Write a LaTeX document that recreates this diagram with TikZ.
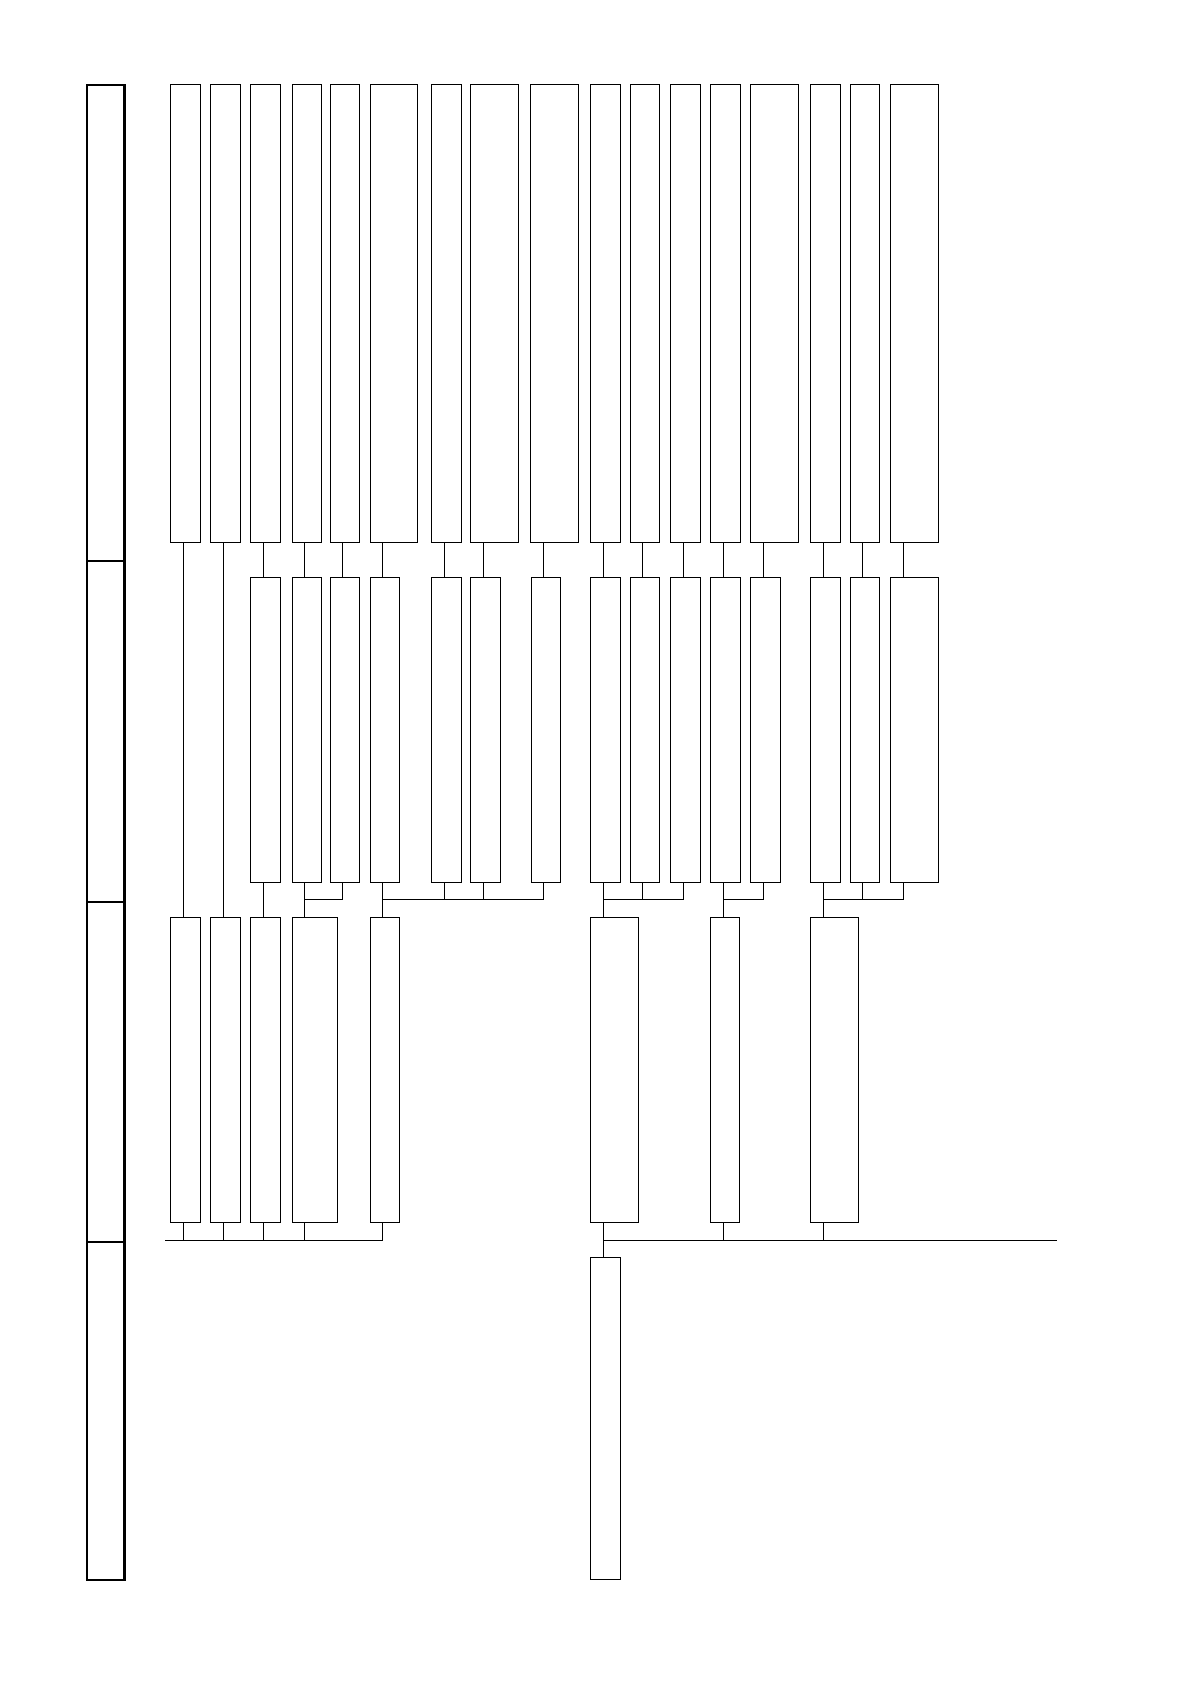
\documentclass[tikz,border=0pt]{standalone}
\tikzset{
	cell/.style={draw, rectangle, inner sep=0pt, anchor=north west, line width=0.5pt},
	band/.style={draw, rectangle, inner sep=0pt, anchor=north west, line width=1.1pt},
	wire/.style={line width=0.5pt},
}
% \cellbox{name}{left}{top}{width}{height}
\newcommand{\cellbox}[5]{
	\node[cell, minimum width=#4*0.5pt, minimum height=#5*0.5pt] (#1) at (#2,#3) {};
}

\begin{document}
\begin{tikzpicture}[x=0.5pt, y=-0.5pt]
	\useasboundingbox (0,0) rectangle (1190,1682);
	% left band
	\node[band, minimum width=37.6*0.5pt, minimum height=476.5*0.5pt] (f1) at (85.7,83.5) {};
	\node[band, minimum width=37.6*0.5pt, minimum height=341*0.5pt] (f2) at (85.7,560) {};
	\node[band, minimum width=37.6*0.5pt, minimum height=340*0.5pt] (f3) at (85.7,901) {};
	\node[band, minimum width=37.6*0.5pt, minimum height=338*0.5pt] (f4) at (85.7,1241) {};
	% top row
	\foreach \n/\x/\w in {1/170/29.5, 2/210/29.5, 3/250/29.5, 4/291.5/29.5, 5/329.5/29.5, 6/369.5/47.5,
		7/431/29.5, 8/470/47.5, 9/530/47.5, 10/590/29.5, 11/629.5/29.5, 12/670/29.5, 13/710/29.5,
		14/750/47.5, 15/810/29.5, 16/849.5/29.5, 17/890/47.5}{
		\cellbox{a\n}{\x}{83.5}{\w}{458.2}
		\coordinate (t\n) at (\x+13.3,0);
	}
	% second row
	\foreach \n/\x/\w in {3/250/29.5, 4/291.5/29.5, 5/329.5/29.5, 6/369.5/29.5, 7/431/29.5, 8/470/29.5,
		9/530.5/29, 10/590/29.5, 11/629.5/29.5, 12/670/29.5, 13/710/29.5, 14/750/29.5, 15/810/29.5,
		16/849.5/29.5, 17/890/47.5}{
		\cellbox{b\n}{\x}{576.7}{\w}{305.6}
	}
	% third row
	\foreach \n/\x/\w in {1/170/29.5, 2/210/29.5, 3/250/29.5, 4/291.5/45, 6/369.5/29.5,
		10/590/47.5, 13/709.5/29.5, 15/810/47.5}{
		\cellbox{c\n}{\x}{916.7}{\w}{305.6}
	}
	% last row
	\cellbox{d10}{590}{1256.7}{29.5}{322.3}
	\coordinate (upper) at (0,899.3);
	\coordinate (lower) at (0,1240);
	\coordinate (busL) at (165,1240);
	\coordinate (busR) at (1056.7,1240);
	% top row down to second row
	\foreach \n in {3,...,17}{
		\draw[wire] (t\n |- a\n.south) -- (t\n |- b\n.north);
	}
	\foreach \n in {1,2}{
		\draw[wire] (t\n |- a\n.south) -- (t\n |- c\n.north);
	}
	\draw[wire] (t3 |- b3.south) -- (t3 |- c3.north);
	% second row down to third row
	\draw[wire] (t4 |- b4.south) -- (t4 |- c4.north);
	\draw[wire] (t5 |- b5.south) |- (t4 |- upper);
	\draw[wire] (t6 |- b6.south) -- (t6 |- c6.north);
	\draw[wire] (t9 |- b9.south) |- (t6 |- upper);
	\foreach \n in {7,8}{
		\draw[wire] (t\n |- b\n.south) -- (t\n |- upper);
	}
	\draw[wire] (t10 |- b10.south) -- (t10 |- c10.north);
	\draw[wire] (t12 |- b12.south) |- (t10 |- upper);
	\draw[wire] (t11 |- b11.south) -- (t11 |- upper);
	\draw[wire] (t13 |- b13.south) -- (t13 |- c13.north);
	\draw[wire] (t14 |- b14.south) |- (t13 |- upper);
	\draw[wire] (t15 |- b15.south) -- (t15 |- c15.north);
	\draw[wire] (t17 |- b17.south) |- (t15 |- upper);
	\draw[wire] (t16 |- b16.south) -- (t16 |- upper);
	% third row down to the buses
	\draw[wire] (busL) -| (t6 |- c6.south);
	\foreach \n in {1,2,3,4}{
		\draw[wire] (t\n |- c\n.south) -- (t\n |- lower);
	}
	\draw[wire] (t10 |- c10.south) -- (t10 |- d10.north);
	\draw[wire] (t10 |- lower) -- (busR);
	\foreach \n in {13,15}{
		\draw[wire] (t\n |- c\n.south) -- (t\n |- lower);
	}
\end{tikzpicture}
\end{document}
